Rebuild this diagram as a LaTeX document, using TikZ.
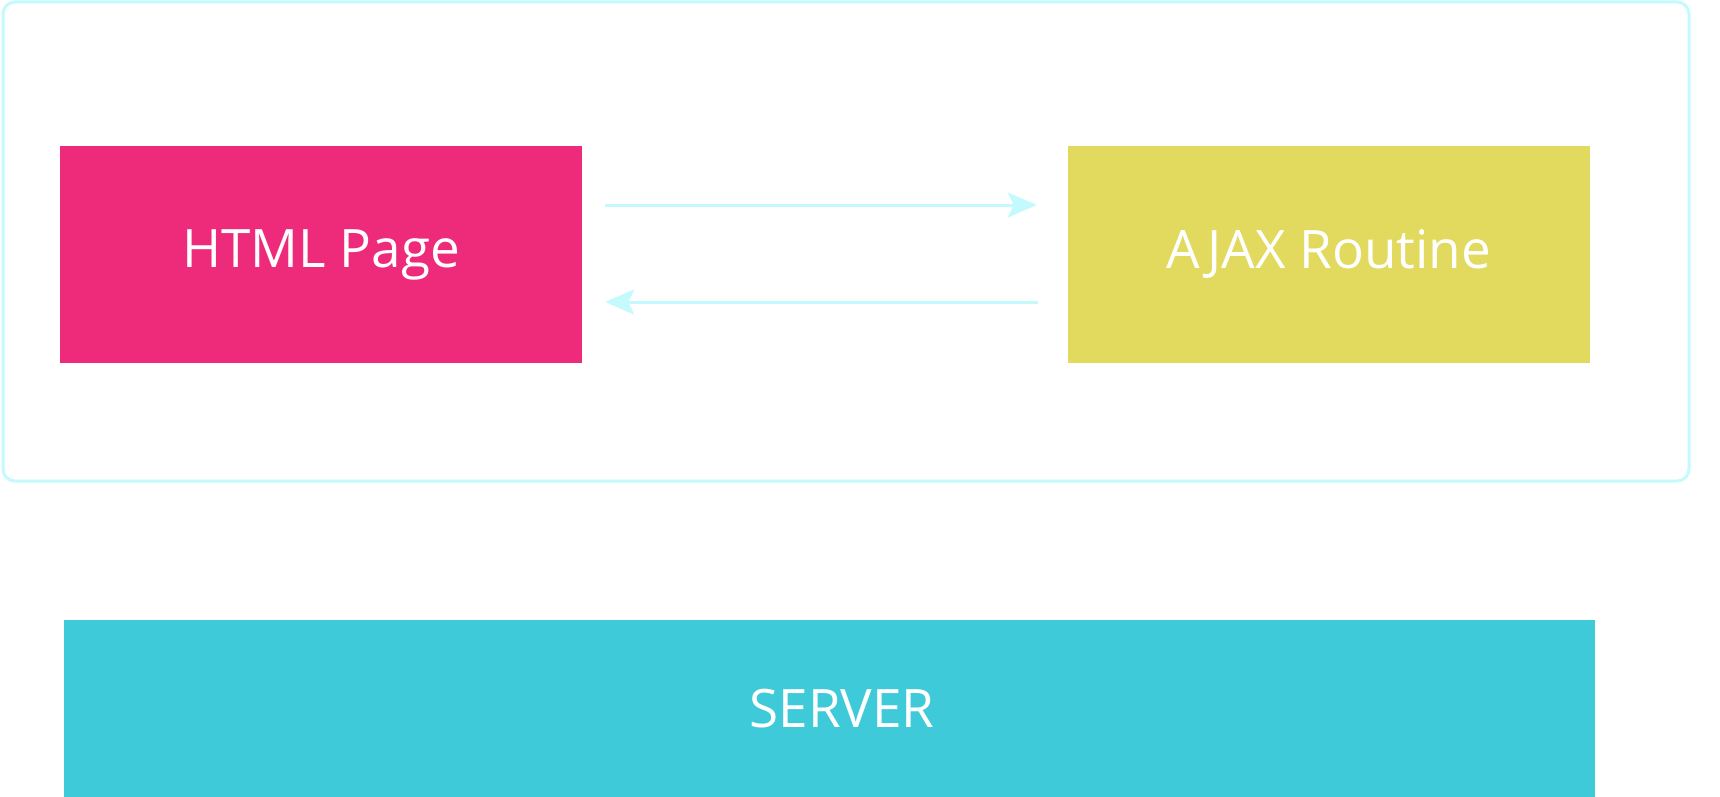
\documentclass[tikz,border=0pt]{standalone}
\usepackage{fontspec}
\setmainfont{Open Sans}
\usetikzlibrary{arrows.meta}

\definecolor{pagepink}{HTML}{EE2A7B}
\definecolor{ajaxyellow}{HTML}{E2D95F}
\definecolor{serverteal}{HTML}{3ECAD9}
\definecolor{flowcyan}{HTML}{C4F9FD}

\begin{document}
\begin{tikzpicture}[x=1pt, y=-1pt,
    block/.style={inner sep=0pt, text=white, font=\fontsize{53}{60}\selectfont},
    flow/.style={line width=3pt, draw=flowcyan, -{Stealth[length=29pt, width=25pt, inset=6pt]}}]
    % Canvas
    \useasboundingbox (0,0) rectangle (1720,797);
    
    % Browser frame
    \draw[flowcyan, line width=3pt, rounded corners=12pt] (3,2) rectangle (1689,481);
    
    % Boxes
    \node[block, fill=pagepink, minimum width=522pt, minimum height=217pt] (html) at (321,254.5) {\raisebox{-3.5pt}{HTML Page}};
    \node[block, fill=ajaxyellow, minimum width=522pt, minimum height=217pt] (ajax) at (1329,254.5) {\raisebox{-3.5pt}{AJAX Routine}};
    \node[block, fill=serverteal, minimum width=1531pt, minimum height=177pt] (server) at (829.5,708.5) {\hspace*{25pt}\raisebox{-9pt}{SERVER}};
    
    % Request and response
    \draw[flow, shorten <=23pt, shorten >=31pt] ([yshift=49.5pt]html.east) -- ([yshift=49.5pt]ajax.west);
    \draw[flow, shorten <=30pt, shorten >=23pt] ([yshift=-47.5pt]ajax.west) -- ([yshift=-47.5pt]html.east);
\end{tikzpicture}
\end{document}
